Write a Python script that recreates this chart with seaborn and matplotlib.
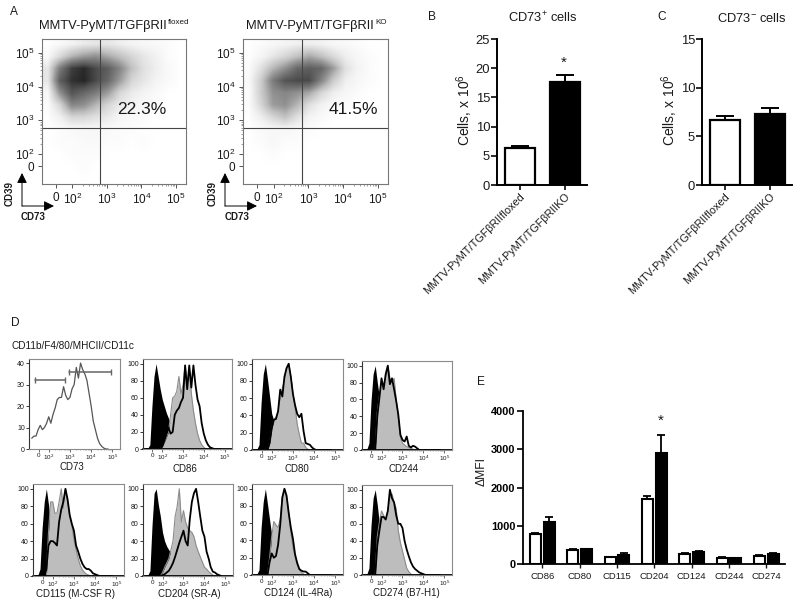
import numpy as np
import pandas as pd
import matplotlib
matplotlib.use("Agg")
import matplotlib.pyplot as plt
from matplotlib.colors import PowerNorm
import seaborn as sns

sns.set_theme(style="white")
plt.rcParams['font.family'] = ['Liberation Sans', 'DejaVu Sans']
plt.rcParams['mathtext.fontset'] = 'custom'
plt.rcParams['mathtext.rm'] = 'Liberation Sans'
plt.rcParams['mathtext.default'] = 'regular'

W, H = 800, 607
INK = '#1a1a1a'

# panel A: dot density, rows top to bottom, columns left to right
density_floxed = [
    [0, .02, .06, .10, .12, .12, .08, .05, .03, .02, .01, 0],
    [.02, .18, .35, .45, .50, .40, .30, .20, .12, .06, .01, 0],
    [.12, .60, .90, .98, .85, .75, .55, .30, .15, .08, .02, 0],
    [.12, .75, .95, 1, .85, .70, .45, .20, .12, .05, .02, 0],
    [.03, .50, .80, .70, .60, .45, .20, .10, .05, .02, 0, 0],
    [.01, .20, .55, .50, .35, .20, .10, .05, .02, .01, 0, 0],
    [0, .07, .20, .20, .15, .10, .04, .02, .01, 0, 0, 0],
    [0, .01, .02, .03, .03, .02, .01, .01, 0, 0, 0, 0],
    [0, .01, .01, .02, .02, .01, .01, 0, .01, 0, 0, 0],
    [0, 0, .01, .01, .01, 0, 0, 0, 0, 0, 0, 0],
    [0, 0, 0, .01, 0, 0, 0, 0, 0, 0, 0, 0],
    [0, 0, 0, 0, 0, 0, 0, 0, 0, 0, 0, 0],
]
density_ko = [
    [0, .01, .03, .05, .07, .08, .06, .03, .02, .01, 0, 0],
    [0, .04, .12, .20, .30, .40, .30, .18, .08, .03, .01, 0],
    [.01, .15, .35, .50, .70, .75, .70, .45, .15, .05, .01, 0],
    [.02, .25, .60, .80, .85, .85, .55, .25, .08, .03, .01, 0],
    [.01, .25, .50, .55, .50, .40, .20, .08, .03, .01, 0, 0],
    [.01, .20, .45, .50, .35, .15, .06, .02, .01, 0, 0, 0],
    [0, .08, .20, .30, .15, .05, .02, 0, 0, 0, 0, 0],
    [0, .02, .03, .03, .02, .01, 0, 0, 0, 0, 0, 0],
    [0, .01, .03, .01, .01, 0, 0, 0, 0, 0, 0, 0],
    [0, 0, .01, 0, 0, 0, 0, 0, 0, 0, 0, 0],
    [0, 0, 0, 0, 0, 0, 0, 0, 0, 0, 0, 0],
    [0, 0, 0, 0, 0, 0, 0, 0, 0, 0, 0, 0],
]

# panels B, C
groups = ['MMTV-PyMT/TGFβRIIfloxed', 'MMTV-PyMT/TGFβRIIKO']
cd73_pos = [6.3, 17.6]
cd73_pos_err = [0.4, 1.2]
cd73_neg = [6.7, 7.3]
cd73_neg_err = [0.4, 0.6]

# panel D: histograms on log10 fluorescence
hist_x = [1.2, 1.3, 1.4, 1.5, 1.6, 1.7, 1.8, 1.9,
          2.0, 2.1, 2.2, 2.3, 2.4, 2.5, 2.6, 2.7, 2.8, 2.9,
          3.0, 3.1, 3.2, 3.3, 3.4, 3.5, 3.6, 3.7, 3.8, 3.9,
          4.0, 4.1, 4.2, 4.3, 4.4, 4.5, 4.6, 4.7, 4.8]
cd73_hist = [5, 6, 6, 9, 11, 9, 10, 12,
             15, 12, 16, 19, 23, 24, 24, 29, 25, 23,
             24, 28, 30, 38, 33, 40, 37, 35, 32, 26,
             20, 13, 9, 5, 2.5, 1.2, .4, 0, 0]
cd86_ctrl = [0, 1, 5, 50, 85, 100, 85, 70,
             58, 50, 42, 36, 30, 25, 18, 12, 7, 4,
             2, 1, 0, 0, 0, 0, 0, 0, 0, 0,
             0, 0, 0, 0, 0, 0, 0, 0, 0]
cd86_grey = [0, 0, 0, 0, 0, 0, 0, 0,
             3, 8, 14, 20, 40, 60, 62, 68, 85, 65,
             75, 98, 75, 95, 65, 45, 30, 18, 10, 5,
             2, 0, 0, 0, 0, 0, 0, 0, 0]
cd86_line = [0, 0, 0, 0, 0, 0, 0, 0,
             3, 10, 18, 25, 18, 20, 40, 45, 48, 55,
             60, 98, 70, 98, 72, 98, 75, 58, 50, 30,
             18, 10, 5, 2, 1, 0, 0, 0, 0]
cd80_ctrl = [0, 1, 6, 55, 88, 100, 82, 62,
             42, 34, 28, 22, 16, 12, 8, 5, 3, 2,
             1, 0, 0, 0, 0, 0, 0, 0, 0, 0,
             0, 0, 0, 0, 0, 0, 0, 0, 0]
cd80_grey = [0, 0, 0, 0, 0, 0, 0, 8,
             25, 35, 38, 45, 58, 72, 80, 95, 100, 85,
             65, 50, 30, 18, 8, 8, 3, 1, 0, 0,
             0, 0, 0, 0, 0, 0, 0, 0, 0]
cd80_line = [0, 0, 0, 0, 0, 0, 0, 8,
             25, 35, 36, 45, 70, 62, 85, 95, 100, 85,
             65, 52, 42, 38, 42, 22, 8, 7, 6, 3,
             1, 0, 0, 0, 0, 0, 0, 0, 0]
cd244_ctrl = [0, 1, 8, 58, 90, 100, 80, 62,
              48, 38, 28, 20, 14, 9, 6, 3, 1, 0,
              0, 0, 0, 0, 0, 0, 0, 0, 0, 0,
              0, 0, 0, 0, 0, 0, 0, 0, 0]
cd244_grey = [0, 0, 0, 0, 0, 0, 45, 65,
              80, 78, 85, 100, 85, 80, 85, 60, 38, 15,
              8, 6, 4, 3, 2, 1, 0, 0, 0, 0,
              0, 0, 0, 0, 0, 0, 0, 0, 0]
cd244_line = [0, 0, 0, 0, 0, 0, 40, 62,
              85, 72, 90, 100, 78, 85, 72, 58, 42, 18,
              12, 10, 16, 5, 3, 5, 4, 2, 0, 0,
              0, 0, 0, 0, 0, 0, 0, 0, 0]
cd115_ctrl = [0, 1, 8, 55, 85, 100, 82, 60,
              42, 30, 20, 14, 9, 5, 3, 1, 0, 0,
              0, 0, 0, 0, 0, 0, 0, 0, 0, 0,
              0, 0, 0, 0, 0, 0, 0, 0, 0]
cd115_grey = [0, 0, 0, 0, 0, 0, 50, 85,
              85, 72, 72, 85, 100, 78, 100, 85, 68, 58,
              42, 30, 20, 12, 7, 4, 2, 1, 0, 0,
              0, 0, 0, 0, 0, 0, 0, 0, 0]
cd115_line = [0, 0, 0, 0, 0, 8, 35, 40,
              40, 38, 35, 62, 76, 85, 100, 88, 70, 60,
              52, 35, 28, 20, 14, 10, 8, 8, 6, 3,
              2, 1, 0, 0, 0, 0, 0, 0, 0]
cd204_ctrl = [0, 1, 6, 58, 95, 100, 82, 68,
              50, 40, 34, 30, 26, 22, 16, 10, 6, 3,
              1, 0, 0, 0, 0, 0, 0, 0, 0, 0,
              0, 0, 0, 0, 0, 0, 0, 0, 0]
cd204_grey = [0, 0, 0, 0, 0, 0, 0, 0,
              4, 10, 15, 20, 30, 40, 68, 80, 100, 62,
              75, 62, 55, 52, 50, 45, 35, 28, 22, 16,
              10, 8, 5, 3, 1, 0, 0, 0, 0]
cd204_line = [0, 0, 0, 0, 0, 0, 0, 0,
              1, 2, 4, 6, 10, 15, 22, 30, 38, 45,
              52, 40, 35, 65, 85, 95, 100, 85, 68, 52,
              45, 28, 20, 10, 5, 4, 2, 1, 0]
cd124_ctrl = [0, 1, 6, 55, 85, 100, 82, 64,
              46, 34, 24, 16, 10, 6, 3, 1, 0, 0,
              0, 0, 0, 0, 0, 0, 0, 0, 0, 0,
              0, 0, 0, 0, 0, 0, 0, 0, 0]
cd124_grey = [0, 0, 0, 0, 0, 0, 0, 20,
              45, 62, 58, 55, 65, 90, 100, 90, 72, 50,
              32, 22, 12, 6, 3, 1, 0, 0, 0, 0,
              0, 0, 0, 0, 0, 0, 0, 0, 0]
cd124_line = [0, 0, 0, 0, 0, 0, 0, 15,
              25, 20, 22, 35, 58, 90, 100, 92, 72, 55,
              42, 24, 14, 7, 5, 4, 4, 2, 0, 0,
              0, 0, 0, 0, 0, 0, 0, 0, 0]
cd274_ctrl = [0, 1, 8, 58, 90, 100, 82, 60,
              42, 30, 20, 12, 6, 3, 1, 0, 0, 0,
              0, 0, 0, 0, 0, 0, 0, 0, 0, 0,
              0, 0, 0, 0, 0, 0, 0, 0, 0]
cd274_grey = [0, 0, 0, 0, 0, 0, 45, 62,
              75, 70, 65, 75, 90, 95, 85, 78, 52, 38,
              28, 18, 8, 4, 1, 0, 0, 0, 0, 0,
              0, 0, 0, 0, 0, 0, 0, 0, 0]
cd274_line = [0, 0, 0, 0, 0, 0, 35, 52,
              68, 68, 65, 75, 100, 90, 85, 70, 60, 60,
              55, 40, 30, 22, 15, 10, 7, 5, 3, 2,
              1, 0, 0, 0, 0, 0, 0, 0, 0]

# panel E
markers = ['CD86', 'CD80', 'CD115', 'CD204', 'CD124', 'CD244', 'CD274']
mfi_floxed = [775, 360, 180, 1710, 270, 160, 215]
mfi_floxed_err = [45, 30, 15, 60, 20, 15, 20]
mfi_ko = [1100, 380, 245, 2910, 315, 150, 270]
mfi_ko_err = [120, 15, 45, 450, 15, 10, 15]


def place(x0, y0, x1, y1):
    return fig.add_axes([x0 / W, 1 - y1 / H, (x1 - x0) / W, (y1 - y0) / H])


def log_ticks(ax, which, zero, size):
    # logicle style axis: zero, then 10^2 to 10^5
    pos = [zero, 2, 3, 4, 5]
    labels = ['0', '$10^{2}$', '$10^{3}$', '$10^{4}$', '$10^{5}$']
    minor = [d + np.log10(m) for d in (2, 3, 4) for m in range(2, 10)]
    if which == 'x':
        ax.set_xticks(pos, labels)
        ax.set_xticks(minor, minor=True)
    else:
        ax.set_yticks(pos, labels)
        ax.set_yticks(minor, minor=True)
    ax.tick_params(axis=which, which='major', labelsize=size, length=3, width=.7,
                   pad=2.5, color='#555555', labelcolor=INK, left=which == 'y', bottom=which == 'x')
    ax.tick_params(axis=which, which='minor', length=1.5, width=.5, color='#777777',
                   left=which == 'y', bottom=which == 'x')


def flow_plot(box, density):
    ax = place(*box)
    ax.imshow(density, cmap='Greys', norm=PowerNorm(.75, vmin=0, vmax=1.2), aspect='auto',
              interpolation='bilinear', extent=[1.12, 5.29, 1.11, 5.41])
    ax.axvline(np.log10(650), color='#444444', lw=.8)
    ax.axhline(np.log10(600), color='#444444', lw=.8)
    log_ticks(ax, 'x', 1.53, 8.5)
    log_ticks(ax, 'y', 1.64, 8.5)
    for s in ax.spines.values():
        s.set_color('#777777')
        s.set_linewidth(.8)
    return ax


def bar_panel(box, values, errs, ymax, step):
    ax = place(*box)
    sns.barplot(x=groups, y=values, hue=groups, palette=['white', 'black'], edgecolor='black',
                linewidth=1.6, width=.67, legend=False, saturation=1, ax=ax)
    ax.errorbar([0, 1], values, yerr=[[0, 0], errs], fmt='none', ecolor='black',
                elinewidth=1.4, capsize=6.3, capthick=1.4)
    ax.set_xlim(-.51, 1.49)
    ax.set_ylim(0, ymax)
    ax.set_yticks(np.arange(0, ymax + 1, step))
    ax.set_xticks([0, 1], groups, rotation=45, ha='right', rotation_mode='anchor')
    ax.tick_params(axis='x', labelsize=7.8, length=3.5, width=1.3, pad=1, bottom=True, colors=INK)
    ax.tick_params(axis='y', labelsize=9.4, length=4.5, width=1.3, pad=.5, left=True, colors=INK)
    sns.despine(ax=ax)
    for s in ('left', 'bottom'):
        ax.spines[s].set_linewidth(1.4)
        ax.spines[s].set_color('black')
    ax.set_xlabel('')
    ax.set_ylabel('')
    ax.patch.set_alpha(0)
    return ax


def hist_panel(box, ctrl, grey, line):
    ax = place(*box)
    ax.fill_between(hist_x, ctrl, color='black', lw=0)
    ax.fill_between(hist_x, grey, color='#bdbdbd', lw=0)
    sns.lineplot(x=hist_x, y=grey, color='#8c8c8c', lw=.8, ax=ax)
    sns.lineplot(x=hist_x, y=line, color='black', lw=1.3, ax=ax)
    ax.axhline(0, color='black', lw=1.3, clip_on=False)
    ax.set_ylim(0, 105.5)
    ax.set_yticks([0, 20, 40, 60, 80, 100])
    hist_frame(ax)
    return ax


def hist_frame(ax):
    ax.set_xlim(1.07, 5.36)
    log_ticks(ax, 'x', 1.52, 4.5)
    ax.tick_params(axis='x', which='major', length=2, width=.6, pad=.8)
    ax.tick_params(axis='x', which='minor', length=1, width=.4)
    ax.tick_params(axis='y', which='major', labelsize=5, length=2, width=.6, pad=1,
                   left=True, colors=INK)
    ax.set_xlabel('')
    ax.set_ylabel('')
    for s in ax.spines.values():
        s.set_color('#8a8a8a')
        s.set_linewidth(.8)
    ax.spines['left'].set_color('#333333')


fig = plt.figure(figsize=(W / 100, H / 100), dpi=100)

# panel A
flow_plot((42, 39, 186, 184), density_floxed)
flow_plot((243, 39, 388, 184), density_ko)

# panels B and C
bar_panel((497, 39, 587, 185), cd73_pos, cd73_pos_err, 25, 5)
bar_panel((702, 39, 792, 185), cd73_neg, cd73_neg_err, 15, 5)

# panel D
ax = place(29, 359, 120, 449)
sns.lineplot(x=hist_x, y=cd73_hist, color='#555555', lw=.9, ax=ax)
ax.plot([1.35, 2.79], [32, 32], color='#666666', lw=1.1, marker='|', ms=4)
ax.plot([2.94, 4.94], [36, 36], color='#666666', lw=1.1, marker='|', ms=4)
ax.set_ylim(0, 41.9)
ax.set_yticks([0, 10, 20, 30, 40])
hist_frame(ax)

hist_panel((143, 359, 232, 449), cd86_ctrl, cd86_grey, cd86_line)
hist_panel((252, 359, 343, 450), cd80_ctrl, cd80_grey, cd80_line)
hist_panel((362, 361, 452, 450), cd244_ctrl, cd244_grey, cd244_line)
hist_panel((33, 484, 124, 576), cd115_ctrl, cd115_grey, cd115_line)
hist_panel((143, 484, 233, 576), cd204_ctrl, cd204_grey, cd204_line)
hist_panel((252, 484, 343, 575), cd124_ctrl, cd124_grey, cd124_line)
hist_panel((362, 485, 452, 575), cd274_ctrl, cd274_grey, cd274_line)

# panel E
mfi = pd.DataFrame({
    'marker': markers * 2,
    'mfi': mfi_floxed + mfi_ko,
    'group': ['floxed'] * len(markers) + ['KO'] * len(markers),
})
ax = place(523, 411, 785, 564)
sns.barplot(data=mfi, x='marker', y='mfi', hue='group', palette=['white', 'black'], edgecolor='black',
            linewidth=1.5, width=.735, gap=.2, legend=False, saturation=1, ax=ax)
bar_x = [p.get_x() + p.get_width() / 2 for p in ax.patches][:2 * len(markers)]
ax.errorbar(bar_x, mfi_floxed + mfi_ko, yerr=[[0] * len(bar_x), mfi_floxed_err + mfi_ko_err],
            fmt='none', ecolor='black', elinewidth=1.3, capsize=2.8, capthick=1.3)
ax.set_xlim(-.517, 6.5)
ax.set_ylim(0, 4000)
ax.set_yticks([0, 1000, 2000, 3000, 4000])
ax.tick_params(axis='y', labelsize=7.9, length=4, width=1.2, pad=1.5, left=True, colors='black')
ax.tick_params(axis='x', labelsize=6.8, length=3, width=1, pad=3, bottom=True, colors=INK)
for t in ax.get_yticklabels():
    t.set_fontweight('bold')
sns.despine(ax=ax)
for s in ('left', 'bottom'):
    ax.spines[s].set_linewidth(1.3)
    ax.spines[s].set_color('black')
ax.set_xlabel('')
ax.set_ylabel('')

# all the loose text and the arrows sit on one overlay in picture pixels
top = fig.add_axes([0, 0, 1, 1], zorder=10)
top.set_xlim(0, W)
top.set_ylim(H, 0)
top.axis('off')


def note(x, y, s, size=8, **kw):
    top.text(x, y, s, fontsize=size, ha=kw.pop('ha', 'center'), va=kw.pop('va', 'center'), color=INK, **kw)


for x, y, s in [(14, 12, 'A'), (432, 17, 'B'), (662, 17, 'C'), (15, 323, 'D'), (481, 382, 'E')]:
    note(x, y, s, size=8.6)

note(39, 26, 'MMTV-PyMT/TGFβRII', size=9.3, ha='left')
note(167.5, 23, 'floxed', size=5.8, ha='left')
note(246, 26, 'MMTV-PyMT/TGFβRII', size=9.3, ha='left')
note(375, 23, 'KO', size=5.8, ha='left')
note(142, 110, '22.3%', size=12.5)
note(353, 110, '41.5%', size=12.5)

for xv, xh, xlab, xtxt in [(22, 54, 10, 33), (225, 257, 213, 237)]:
    top.annotate('', xy=(xv, 173), xytext=(xv, 206),
                 arrowprops=dict(arrowstyle='-|>', color='black', lw=.7, mutation_scale=15, shrinkA=0, shrinkB=0))
    top.annotate('', xy=(xh, 206), xytext=(xv, 206),
                 arrowprops=dict(arrowstyle='-|>', color='black', lw=.7, mutation_scale=15, shrinkA=0, shrinkB=0))
    note(xlab, 194, 'CD39', size=7, rotation=90, fontweight='bold')
    note(xtxt, 217, 'CD73', size=7, fontweight='bold')

note(543, 18, 'CD73$^{+}$ cells', size=9.3)
note(752, 18, 'CD73$^{-}$ cells', size=9.3)
note(465, 110, 'Cells, x $10^{6}$', size=10, rotation=90)
note(670, 110, 'Cells, x $10^{6}$', size=10, rotation=90)
note(564, 63, '*', size=11)

note(12, 346, 'CD11b/F4/80/MHCII/CD11c', size=7.2, ha='left')
for x, y, s in [(72, 467, 'CD73'), (185, 469, 'CD86'), (297, 469, 'CD80'), (404, 469, 'CD244'),
                (76, 594, 'CD115 (M-CSF R)'), (189, 594, 'CD204 (SR-A)'),
                (298, 593, 'CD124 (IL-4Ra)'), (406, 593, 'CD274 (B7-H1)')]:
    note(x, y, s, size=7)

note(482, 472, 'ΔMFI', size=8.7, rotation=90)
note(661, 421, '*', size=11)

fig.savefig('out.png', dpi=100, facecolor='white')
